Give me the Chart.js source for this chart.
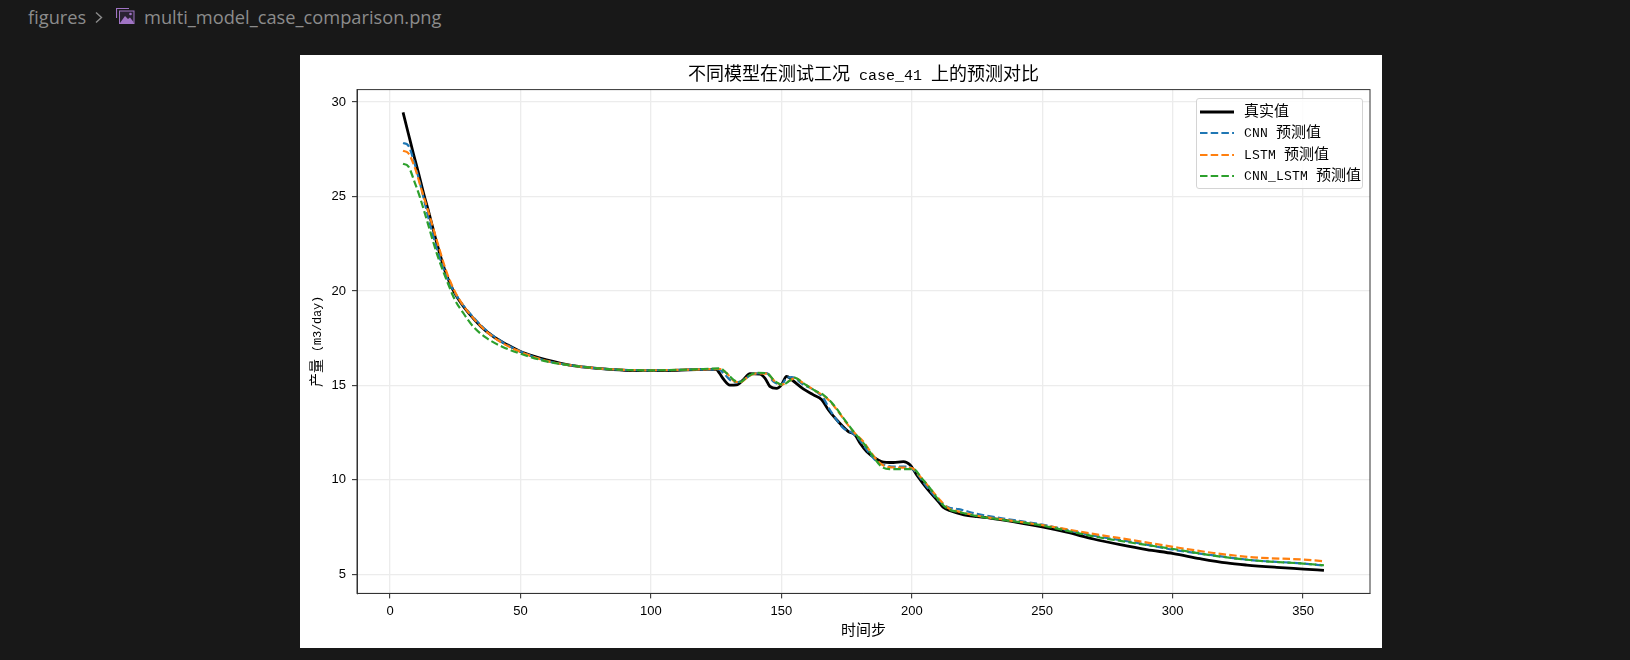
<!DOCTYPE html>
<html lang="zh">
<head>
<meta charset="utf-8">
<title>multi_model_case_comparison.png</title>
<script src="https://cdn.jsdelivr.net/npm/chart.js"></script>
<style>
  @font-face { font-family: "HalfMono"; src: local("Liberation Mono"); size-adjust: 83.5%; }
  html, body { margin: 0; width: 1630px; height: 660px; overflow: hidden; background: #181818; }
  .crumb { position: absolute; top: 4px; height: 26px; color: #8c8c8c; font: 18.25px/26px "Open Sans", "Noto Sans", sans-serif; white-space: nowrap; }
  .sheet { position: absolute; left: 300px; top: 55px; width: 1082px; height: 593px; background: #fff; }
  canvas { position: absolute; left: 0; top: 0; }
  #legend { position: absolute; left: 896px; top: 43px; width: 167px; height: 91px; box-sizing: border-box; border: 1px solid #d4d4d4; border-radius: 3px; background: rgba(255,255,255,.85); font: 15px "HalfMono", "Noto Sans CJK SC", monospace; color: #000; }
  #legend div { position: absolute; left: 0; height: 20px; line-height: 20px; white-space: nowrap; }
  #legend svg { position: absolute; left: 3px; top: 8px; }
  #legend span { position: absolute; left: 47px; top: 1px; }
</style>
</head>
<body>
<div class="crumb" style="left:28px">figures</div>
<svg style="position:absolute;left:94px;top:11px" width="10" height="13" viewBox="0 0 10 13"><path d="M2 1.5 L7.5 6.5 L2 11.5" fill="none" stroke="#8c8c8c" stroke-width="1.4"/></svg>
<svg style="position:absolute;left:116px;top:8px" width="19" height="16" viewBox="0 0 19 16">
  <path d="M0.5 10 V0.5 H13" fill="none" stroke="#a074c4" stroke-width="1.2"/>
  <rect x="3.5" y="3" width="14.5" height="12.5" fill="#2a2233" stroke="#a074c4" stroke-width="1"/>
  <path d="M4 15 L9 8 L12 11 L14 9.5 L17.5 14 V15 Z" fill="#a074c4"/>
  <circle cx="14.5" cy="6" r="1.3" fill="#a074c4"/>
</svg>
<div class="crumb" style="left:144px">multi_model_case_comparison.png</div>

<div class="sheet">
  <canvas id="caseChart" width="1082" height="593"></canvas>
  <div id="legend"></div>
</div>

<script>
const xTicks = [0, 50, 100, 150, 200, 250, 300, 350];
const yTicks = [5, 10, 15, 20, 25, 30];

const trueSteps = [5, 7, 9, 11, 13, 15, 18, 21, 24, 27, 30, 35, 40, 45, 50, 55, 60, 70, 80, 90, 100, 110, 120, 125, 126.3, 127.8, 130.3, 132.9, 135.4, 138, 141.8, 143.7, 145.6, 148.2, 150.1, 152, 154, 158.4, 162.3, 165.5, 168, 171.8, 175.7, 178.2, 180.2, 182.7, 185.9, 188.4, 192.9, 196.8, 199.3, 201.9, 205.7, 210.2, 212, 215, 220, 225, 230, 234, 250, 259.4, 269.6, 279.9, 290, 300.3, 310.5, 320.7, 328.4, 339.9, 350.2, 358];
const trueValues = [29.45, 28.35, 27.25, 26.2, 25.1, 24.1, 22.5, 21.1, 20.1, 19.4, 18.85, 18.1, 17.55, 17.15, 16.8, 16.55, 16.35, 16.05, 15.9, 15.8, 15.78, 15.8, 15.85, 15.85, 15.65, 15.34, 15.02, 15.03, 15.3, 15.62, 15.6, 15.39, 14.95, 14.84, 15.04, 15.48, 15.3, 14.82, 14.5, 14.24, 13.71, 13.09, 12.56, 12.39, 11.94, 11.5, 11.15, 10.97, 10.92, 10.97, 10.8, 10.26, 9.56, 8.85, 8.55, 8.35, 8.15, 8.05, 7.98, 7.9, 7.51, 7.23, 6.87, 6.57, 6.31, 6.1, 5.83, 5.6, 5.49, 5.37, 5.28, 5.21];

const cnnSteps = [5, 7, 9.2, 11.5, 14.3, 17.9, 21.7, 24.9, 28, 32, 37, 43, 50, 60, 70, 80, 90, 100, 110, 120, 126, 128.4, 130.3, 132.9, 136, 139.2, 144.4, 147, 150, 152, 154, 158.4, 162.3, 166.1, 168.6, 171.2, 173.8, 177, 179.5, 182.7, 185.9, 189.1, 194.2, 198.7, 201.3, 205.7, 210.2, 214, 218, 225, 234, 250, 269.6, 285, 300.3, 315.7, 331, 350, 358];
const cnnValues = [27.83, 27.7, 26.85, 25.7, 24.1, 22.26, 20.76, 19.88, 19.25, 18.6, 17.9, 17.3, 16.8, 16.3, 16.05, 15.9, 15.82, 15.8, 15.82, 15.85, 15.85, 15.56, 15.3, 15.16, 15.34, 15.6, 15.65, 15.2, 15.04, 15.39, 15.44, 15.04, 14.77, 14.33, 13.71, 13.18, 12.74, 12.5, 12.2, 11.6, 11.06, 10.8, 10.7, 10.7, 10.44, 9.65, 8.94, 8.55, 8.45, 8.2, 7.98, 7.63, 7.05, 6.7, 6.3, 6, 5.74, 5.57, 5.46];

const lstmSteps = [5, 7, 9.6, 12.1, 14.7, 17.9, 21.7, 24.9, 28, 32, 37, 43, 50, 60, 70, 80, 90, 100, 110, 120, 126.5, 129, 131.6, 134.2, 137.4, 140.6, 144.4, 147.6, 150, 153.3, 155.2, 158.4, 163, 167.4, 171.8, 175, 178.2, 181.4, 184.6, 187.1, 190.3, 195.5, 200, 203.2, 207, 210.2, 214, 218, 225, 234, 250, 269.6, 285, 300.3, 315.7, 331, 350.2, 358];
const lstmValues = [27.42, 27.3, 26.5, 25.35, 24.2, 22.7, 21, 19.96, 19.25, 18.55, 17.85, 17.25, 16.78, 16.3, 16.05, 15.9, 15.82, 15.8, 15.82, 15.85, 15.87, 15.65, 15.26, 15.16, 15.48, 15.64, 15.62, 15.21, 15.04, 15.26, 15.39, 15.12, 14.72, 14.33, 13.62, 13, 12.47, 12.03, 11.41, 10.97, 10.7, 10.65, 10.62, 10.18, 9.56, 9.03, 8.5, 8.32, 8.1, 7.92, 7.6, 7.14, 6.8, 6.45, 6.13, 5.9, 5.78, 5.69];

const cnnLstmSteps = [5, 7, 9.6, 11.5, 14.3, 17.9, 21.7, 24.9, 28, 32, 37.1, 43, 50, 60, 70, 80, 90, 100, 110, 120, 126.5, 129, 132, 134.2, 137.4, 140.6, 144.4, 147.6, 150.6, 153.3, 155, 158.4, 163, 166.1, 170, 173.8, 178.2, 182, 185.2, 188.4, 191.6, 198, 200.6, 203.8, 207, 210.2, 214, 218, 225, 234, 250, 269.6, 285, 300.3, 315.7, 331, 350, 358];
const cnnLstmValues = [26.73, 26.6, 25.7, 24.95, 23.67, 22, 20.58, 19.52, 18.85, 18.1, 17.5, 17.05, 16.68, 16.27, 16.05, 15.9, 15.82, 15.8, 15.82, 15.87, 15.9, 15.65, 15.26, 15.18, 15.5, 15.67, 15.65, 15.21, 15.04, 15.26, 15.41, 15.12, 14.72, 14.5, 13.98, 13.27, 12.47, 11.86, 11.24, 10.7, 10.57, 10.57, 10.57, 10.09, 9.56, 8.94, 8.45, 8.3, 8.08, 7.9, 7.58, 7.01, 6.66, 6.34, 5.99, 5.74, 5.57, 5.48];

const seriesNames = ['真实值', 'CNN 预测值', 'LSTM 预测值', 'CNN_LSTM 预测值'];
const seriesColors = ['#000000', '#1f77b4', '#ff7f0e', '#2ca02c'];
const allSteps = [trueSteps, cnnSteps, lstmSteps, cnnLstmSteps];
const allValues = [trueValues, cnnValues, lstmValues, cnnLstmValues];

const monoFont = '"HalfMono", "Noto Sans CJK SC", monospace';

const datasets = seriesNames.map((name, i) => ({
  label: name,
  data: allSteps[i].map((step, j) => ({ x: step, y: allValues[i][j] })),
  borderColor: seriesColors[i],
  borderWidth: i === 0 ? 2.8 : 2.2,
  borderDash: i === 0 ? [] : [7.5, 3.2],
  cubicInterpolationMode: 'monotone',
  pointRadius: 0,
  fill: false,
  order: 4 - i
}));

// top and right sides of the axes box
const frame = {
  id: 'frame',
  afterDatasetsDraw(chart) {
    const { ctx, chartArea: a } = chart;
    ctx.save();
    ctx.strokeStyle = '#333';
    ctx.lineWidth = 1;
    ctx.strokeRect(a.left, a.top, a.right - a.left, a.bottom - a.top);
    ctx.restore();
  }
};

function renderChart() {
  new Chart(document.getElementById('caseChart'), {
    type: 'line',
    data: { datasets },
    plugins: [frame],
    options: {
      responsive: false,
      animation: false,
      layout: { padding: { right: 12 } },
      plugins: {
        legend: { display: false },
        tooltip: { enabled: false },
        title: {
          display: true,
          fullSize: false,
          text: '不同模型在测试工况 case_41 上的预测对比',
          color: '#000',
          font: { family: monoFont, size: 18, weight: 'normal' },
          padding: { top: 10, bottom: 3 }
        }
      },
      scales: {
        x: {
          type: 'linear',
          min: -12.65,
          max: 375.65,
          afterFit(scale) { scale.height = 54.6; },
          afterBuildTicks(scale) { scale.ticks = xTicks.map(v => ({ value: v })); },
          grid: { color: '#ececec', lineWidth: 1.3, tickColor: '#222', tickLength: 5, tickWidth: 1 },
          border: { color: '#333', width: 1 },
          ticks: { color: '#000', padding: 5, maxRotation: 0, autoSkip: false, font: { family: '"Liberation Sans", sans-serif', size: 13 } },
          title: { display: true, text: '时间步', color: '#000', padding: { top: 0, bottom: 7 }, font: { family: monoFont, size: 15 } }
        },
        y: {
          min: 3.99,
          max: 30.66,
          afterFit(scale) { scale.width = 57; },
          afterBuildTicks(scale) { scale.ticks = yTicks.map(v => ({ value: v })); },
          grid: { color: '#ececec', lineWidth: 1.3, tickColor: '#222', tickLength: 5, tickWidth: 1 },
          border: { color: '#333', width: 1 },
          ticks: { color: '#000', padding: 6, autoSkip: false, font: { family: '"Liberation Sans", sans-serif', size: 13 } },
          title: { display: true, text: '产量 (m3/day)', color: '#000', padding: { top: 10, bottom: 0 }, font: { family: monoFont, size: 14 } }
        }
      }
    }
  });
}

// legend sits inside the plot, built from the same series lists
const legendBox = document.getElementById('legend');
seriesNames.forEach((name, i) => {
  const row = document.createElement('div');
  row.style.top = (2.5 + i * 21.5) + 'px';
  const dash = i === 0 ? '' : 'stroke-dasharray="7.5 3.2"';
  row.innerHTML = '<svg width="35" height="4"><line x1="0" y1="2" x2="34" y2="2" stroke="' + seriesColors[i] + '" stroke-width="' + (i === 0 ? 2.8 : 2.2) + '" ' + dash + '/></svg><span>' + name + '</span>';
  legendBox.appendChild(row);
});

document.fonts.load('15px "HalfMono"', 'case').then(renderChart, renderChart);
</script>
</body>
</html>
